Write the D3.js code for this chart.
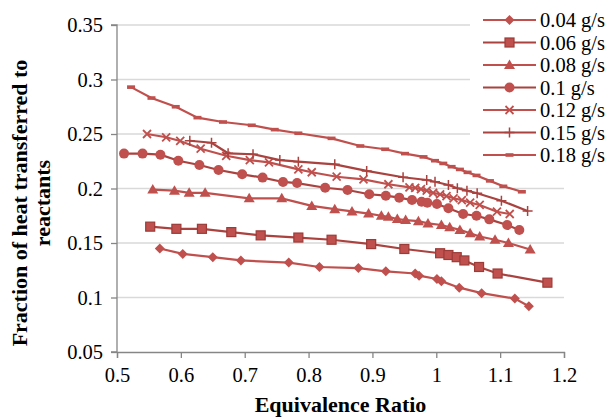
<!DOCTYPE html>
<html>
<head>
<meta charset="utf-8">
<script src="https://cdn.jsdelivr.net/npm/d3@7"></script>
<style>
  body { margin: 0; background: #fff; }
  svg { font-family: "Liberation Serif", "Times New Roman", serif; }
</style>
</head>
<body>
<svg id="chart"></svg>
<script>
// equivalence ratio / fraction pairs, one array per flow rate
const s004 = [[0.567,0.145],[0.603,0.140],[0.650,0.137],[0.694,0.134],[0.769,0.132],[0.817,0.128],
  [0.878,0.127],[0.921,0.124],[0.967,0.122],[0.973,0.120],[1.001,0.117],[1.008,0.115],[1.036,0.109],
  [1.071,0.104],[1.123,0.099],[1.145,0.092]];
const s006 = [[0.552,0.165],[0.593,0.163],[0.633,0.163],[0.679,0.160],[0.725,0.157],[0.784,0.155],
  [0.836,0.153],[0.898,0.149],[0.950,0.1445],[1.006,0.1406],[1.019,0.139],[1.032,0.137],[1.044,0.134],
  [1.067,0.128],[1.096,0.122],[1.174,0.1136]];
const s008 = [[0.556,0.199],[0.590,0.198],[0.613,0.196],[0.638,0.196],[0.707,0.191],[0.758,0.191],
  [0.805,0.184],[0.841,0.181],[0.868,0.179],[0.894,0.177],[0.914,0.175],[0.925,0.174],[0.939,0.172],
  [0.952,0.171],[0.972,0.170],[0.987,0.168],[1.008,0.1665],[1.021,0.1644],[1.037,0.162],[1.053,0.159],
  [1.068,0.156],[1.092,0.153],[1.113,0.150],[1.147,0.144]];
const s010 = [[0.511,0.232],[0.540,0.232],[0.568,0.231],[0.596,0.2255],[0.629,0.2216],[0.659,0.217],
  [0.696,0.213],[0.728,0.210],[0.760,0.206],[0.782,0.205],[0.826,0.2007],[0.861,0.1986],[0.895,0.1947],
  [0.921,0.1934],[0.942,0.1916],[0.962,0.1894],[0.977,0.1879],[0.986,0.187],[1.001,0.1858],[1.019,0.1818],
  [1.042,0.1766],[1.063,0.175],[1.083,0.1717],[1.111,0.1665],[1.130,0.162]];
const s012 = [[0.547,0.250],[0.577,0.247],[0.599,0.2436],[0.631,0.2365],[0.671,0.230],[0.708,0.226],
  [0.738,0.224],[0.784,0.2176],[0.805,0.2149],[0.844,0.2108],[0.886,0.2084],[0.925,0.2039],[0.958,0.201],
  [0.967,0.2005],[0.976,0.1995],[0.985,0.198],[0.995,0.196],[1.006,0.1947],[1.016,0.1931],[1.027,0.191],
  [1.040,0.1894],[1.053,0.187],[1.068,0.1849],[1.095,0.1787],[1.115,0.1766]];
const s015 = [[0.614,0.2438],[0.648,0.242],[0.674,0.2323],[0.713,0.2314],[0.755,0.2261],[0.784,0.2246],
  [0.841,0.2222],[0.891,0.2161],[0.948,0.2103],[0.985,0.2078],[0.998,0.2062],[1.019,0.2032],[1.033,0.2002],
  [1.048,0.198],[1.064,0.1956],[1.102,0.1888],[1.143,0.1794]];
const s018 = [[0.522,0.293],[0.554,0.283],[0.592,0.275],[0.626,0.265],[0.666,0.261],[0.711,0.258],
  [0.747,0.254],[0.784,0.2507],[0.836,0.246],[0.881,0.239],[0.920,0.236],[0.951,0.232],[0.980,0.229],
  [0.998,0.2255],[1.011,0.223],[1.024,0.220],[1.037,0.2175],[1.049,0.2148],[1.063,0.212],[1.084,0.207],
  [1.105,0.202],[1.134,0.197]];

const seriesNames = ['0.04 g/s','0.06 g/s','0.08 g/s','0.1 g/s','0.12 g/s','0.15 g/s','0.18 g/s'];
const seriesValues = [s004, s006, s008, s010, s012, s015, s018];
const markerTypes = ['diamond','square','triangle','circle','x','plus','dash'];

const xTicks = [0.5,0.6,0.7,0.8,0.9,1,1.1,1.2];
const yTicks = [0.05,0.1,0.15,0.2,0.25,0.3,0.35];

const width = 611, height = 417;
const margin = {top: 25, right: 47, bottom: 65, left: 117};
const innerW = width - margin.left - margin.right;
const innerH = height - margin.top - margin.bottom;

const light = '#c0504d', dark = '#aa423f';
const lineColor = i => (i % 2 === 1 ? dark : light);
const labelSize = 20.5, titleSize = 22;

const svg = d3.select('#chart').attr('width', width).attr('height', height);
const g = svg.append('g').attr('transform', `translate(${margin.left},${margin.top})`);

const x = d3.scaleLinear().domain([0.5, 1.2]).range([0, innerW]);
const y = d3.scaleLinear().domain([0.05, 0.35]).range([innerH, 0]);

// gridlines
g.append('g')
  .selectAll('line')
  .data(yTicks.slice(1))
  .join('line')
    .attr('x1', 0).attr('x2', innerW)
    .attr('y1', d => y(d)).attr('y2', d => y(d))
    .attr('stroke', '#d9d9d9').attr('stroke-width', 1.3);

// axes
const yAxis = d3.axisLeft(y).tickValues(yTicks).tickSize(6).tickPadding(8)
  .tickFormat(d => d3.format('~g')(d));
const xAxis = d3.axisBottom(x).tickValues(xTicks).tickSize(6).tickPadding(9)
  .tickFormat(d => d3.format('~g')(d));

g.append('g').call(yAxis)
  .call(a => a.selectAll('path,line').attr('stroke', '#868686').attr('stroke-width', 1.3))
  .call(a => a.select('.domain').attr('d', `M-6,${innerH}H0V0H-6`))
  .call(a => a.selectAll('text').attr('font-size', labelSize).attr('font-family', 'Liberation Serif').attr('fill', '#000'));

g.append('g').attr('transform', `translate(0,${innerH})`).call(xAxis)
  .call(a => a.selectAll('path,line').attr('stroke', '#868686').attr('stroke-width', 1.3))
  .call(a => a.selectAll('text').attr('font-size', labelSize).attr('font-family', 'Liberation Serif').attr('fill', '#000'));

// marker drawing
function drawMarker(sel, type, color) {
  if (type === 'circle') {
    sel.append('circle').attr('r', 5).attr('fill', light);
  } else if (type === 'square') {
    sel.append('rect').attr('x', -4.5).attr('y', -4.5).attr('width', 9).attr('height', 9)
      .attr('fill', light).attr('stroke', '#9c3b38').attr('stroke-width', 1.2);
  } else if (type === 'diamond') {
    sel.append('path').attr('d', 'M0,-5L5,0L0,5L-5,0Z').attr('fill', light);
  } else if (type === 'triangle') {
    sel.append('path').attr('d', 'M0,-5.5L5.5,4L-5.5,4Z').attr('fill', light);
  } else if (type === 'x') {
    sel.append('path').attr('d', 'M-4,-4L4,4M-4,4L4,-4').attr('stroke', color).attr('stroke-width', 1.8);
  } else if (type === 'plus') {
    sel.append('path').attr('d', 'M0,-5V5M-5,0H5').attr('stroke', color).attr('stroke-width', 1.5);
  } else if (type === 'dash') {
    sel.append('rect').attr('x', -4).attr('y', -1.8).attr('width', 8).attr('height', 3.6).attr('fill', color);
  }
}

const line = d3.line().x(d => x(d[0])).y(d => y(d[1]));

seriesValues.forEach((vals, i) => {
  const sg = g.append('g').attr('class', 'series');
  sg.append('path')
    .datum(vals)
    .attr('d', line)
    .attr('fill', 'none')
    .attr('stroke', lineColor(i))
    .attr('stroke-width', 2.2);
  sg.selectAll('g.mk')
    .data(vals)
    .join('g')
      .attr('class', 'mk')
      .attr('transform', d => `translate(${x(d[0])},${y(d[1])})`)
      .each(function() { drawMarker(d3.select(this), markerTypes[i], lineColor(i)); });
});

// legend (white box over the top-right of the plot)
const legend = svg.append('g').attr('transform', 'translate(470,0)');
legend.append('rect').attr('width', 141).attr('height', 166).attr('fill', '#fff');
seriesNames.forEach((name, i) => {
  const row = legend.append('g').attr('transform', `translate(0,${20 + i * 22.5})`);
  row.append('line').attr('x1', 13).attr('x2', 66).attr('stroke', lineColor(i)).attr('stroke-width', 2.2);
  const mk = row.append('g').attr('transform', 'translate(39.5,0)');
  drawMarker(mk, markerTypes[i], lineColor(i));
  row.append('text').attr('x', 70).attr('dy', '0.35em')
    .attr('font-size', labelSize).text(name);
});

// axis titles
svg.append('text')
  .attr('x', margin.left + innerW / 2).attr('y', 412)
  .attr('text-anchor', 'middle').attr('font-weight', 'bold').attr('font-size', titleSize)
  .text('Equivalence Ratio');

const yTitle = svg.append('text')
  .attr('transform', 'translate(27,203) rotate(-90)')
  .attr('text-anchor', 'middle').attr('font-weight', 'bold').attr('font-size', titleSize);
yTitle.append('tspan').attr('x', 0).attr('y', 0).text('Fraction of heat transferred to');
yTitle.append('tspan').attr('x', 0).attr('y', 23).text('reactants');
</script>
</body>
</html>
